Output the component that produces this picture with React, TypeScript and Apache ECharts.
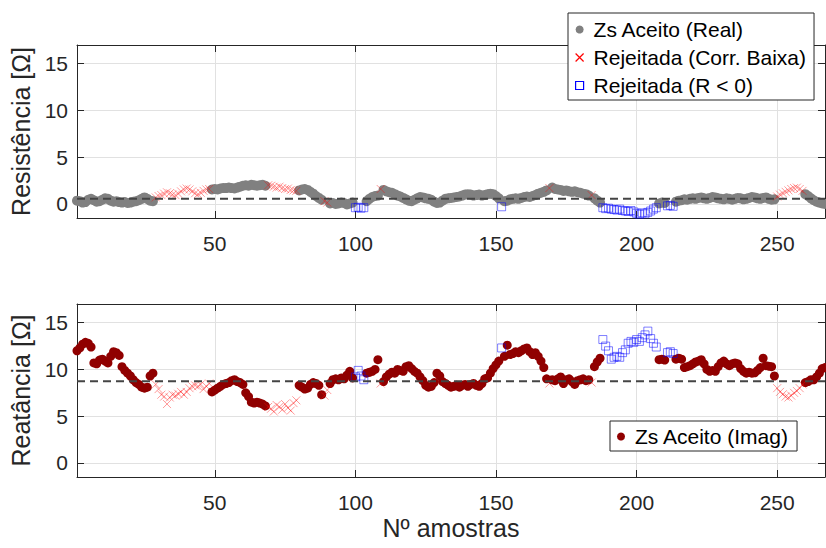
import { useEffect, useRef } from "react";
import * as echarts from "echarts";

// Sample index runs from 1 to 267
const sampleCount = 267;

// Real part of the estimated source impedance, per sample [Ω]
const resistance = [
  0.35, 0.30, 0.15, 0.20, 0.45, 0.55, 0.40, 0.25, 0.30, 0.45,
  0.60, 0.55, 0.35, 0.25, 0.30, 0.20, 0.15, 0.20, 0.10, 0.15,
  0.25, 0.30, 0.40, 0.55, 0.70, 0.55, 0.35, 0.30, 0.70, 0.85,
  0.95, 1.10, 1.25, 1.15, 1.00, 0.95, 1.10, 1.35, 1.55, 1.65,
  1.55, 1.35, 1.15, 1.05, 1.20, 1.40, 1.55, 1.60, 1.55, 1.60,
  1.55, 1.65, 1.70, 1.70, 1.75, 1.70, 1.65, 1.75, 1.85, 1.95,
  2.00, 1.95, 2.05, 2.00, 1.95, 2.00, 2.05, 1.95, 2.00, 1.95,
  1.85, 1.75, 1.85, 1.70, 1.60, 1.65, 1.50, 1.45, 1.40, 1.45,
  1.55, 1.60, 1.50, 1.30, 1.10, 0.85, 0.65, 0.45, 0.30, 0.15,
  0.05, 0.10, 0.00, 0.05, 0.15, 0.10, -0.05, 0.05, 0.15, -0.40,
  -0.35, -0.45, -0.40, 0.30, 0.55, 0.75, 0.85, 0.90, 1.60, 1.50,
  1.35, 1.25, 1.20, 1.05, 0.90, 0.80, 0.65, 0.50, 0.35, 0.30,
  0.45, 0.60, 0.75, 0.70, 0.60, 0.55, 0.45, 0.25, 0.10, 0.15,
  0.35, 0.55, 0.60, 0.65, 0.70, 0.75, 0.80, 0.90, 1.00, 1.05,
  1.00, 0.90, 0.95, 1.00, 0.90, 0.95, 1.05, 1.10, 1.05, 0.85,
  0.60, -0.30, 0.30, 0.35, 0.50, 0.55, 0.60, 0.55, 0.65, 0.75,
  0.80, 0.75, 0.85, 0.95, 1.10, 1.20, 1.30, 1.45, 1.70, 1.75,
  1.60, 1.55, 1.50, 1.40, 1.45, 1.35, 1.30, 1.35, 1.25, 1.20,
  1.10, 1.05, 0.90, 0.95, 0.60, 0.35, 0.15, -0.40, -0.50, -0.45,
  -0.55, -0.60, -0.65, -0.55, -0.70, -0.75, -0.80, -0.70, -0.85, -1.00,
  -1.10, -0.95, -1.05, -0.90, -0.75, -0.55, -0.40, 0.05, 0.15, 0.10,
  -0.20, -0.15, -0.25, 0.25, 0.35, 0.40, 0.50, 0.45, 0.55, 0.60,
  0.55, 0.65, 0.70, 0.60, 0.55, 0.65, 0.75, 0.70, 0.60, 0.55,
  0.50, 0.60, 0.55, 0.45, 0.55, 0.65, 0.60, 0.50, 0.55, 0.65,
  0.75, 0.70, 0.60, 0.55, 0.65, 0.70, 0.55, 0.45, 0.50, 0.80,
  1.00, 1.15, 1.30, 1.45, 1.60, 1.70, 1.75, 1.60, 1.40, 1.05,
  0.85, 0.60, 0.40, 0.25, 0.15, 0.05, 0.00,
];

// Imaginary part of the estimated source impedance, per sample [Ω]
const reactance = [
  12.0, 12.3, 12.7, 12.9, 12.8, 12.4, 10.7, 10.6, 11.0, 11.1,
  10.9, 10.7, 11.4, 11.9, 11.8, 11.5, 10.3, 9.9, 9.6, 9.3,
  8.9, 8.6, 8.4, 8.1, 8.0, 8.1, 9.3, 9.6, 8.4, 7.9,
  7.3, 7.1, 6.3, 7.0, 7.3, 7.2, 7.4, 7.6, 7.3, 7.6,
  8.0, 8.2, 8.3, 8.2, 8.4, 7.9, 8.2, 8.5, 7.6, 7.8,
  8.0, 8.2, 8.4, 8.5, 8.6, 8.8, 8.9, 8.7, 8.6, 8.4,
  7.5, 7.1, 6.5, 6.4, 6.5, 6.4, 6.3, 6.1, 6.0, 5.8,
  5.5, 6.2, 6.0, 5.7, 6.3, 5.9, 5.6, 6.4, 6.7, 8.3,
  8.1, 7.9, 8.0, 8.4, 8.6, 8.5, 8.3, 7.3, 7.2, 7.8,
  8.5, 8.9, 9.0, 8.9, 9.1, 9.0, 9.4, 9.8, 9.1, 9.2,
  9.9, 9.3, 8.9, 9.6, 9.7, 9.8, 10.0, 11.05, 8.5, 8.7,
  9.2, 9.5, 9.7, 9.6, 10.0, 9.9, 9.8, 10.3, 10.4, 10.1,
  9.8, 9.6, 9.2, 8.8, 8.3, 8.1, 8.2, 8.6, 9.6, 9.3,
  8.7, 8.5, 8.3, 8.1, 8.2, 8.3, 8.1, 8.3, 8.4, 8.2,
  8.4, 8.5, 8.3, 8.2, 8.5, 9.0, 9.1, 9.6, 10.1, 10.5,
  10.9, 12.3, 11.4, 12.6, 11.6, 11.7, 11.9, 11.8, 12.0, 12.2,
  12.3, 11.9, 11.6, 11.8, 11.4, 10.9, 10.2, 9.0, 8.5, 8.9,
  8.8, 9.0, 9.2, 8.5, 8.9, 9.0, 8.7, 8.4, 8.8, 8.9,
  9.0, 8.8, 8.9, 8.6, 10.3, 10.8, 11.2, 13.2, 12.5, 12.0,
  11.1, 11.3, 11.4, 11.3, 11.8, 12.1, 12.8, 13.0, 12.9, 13.2,
  13.0, 13.4, 13.7, 14.1, 13.3, 12.8, 12.4, 11.05, 11.1, 11.0,
  11.8, 11.9, 11.7, 11.1, 11.2, 11.1, 10.2, 10.3, 10.4, 10.6,
  10.8, 10.9, 11.05, 10.6, 10.0, 9.8, 9.9, 9.8, 10.3, 10.7,
  10.9, 10.6, 10.4, 10.6, 10.7, 10.6, 10.1, 9.8, 9.6, 9.7,
  9.6, 9.65, 9.9, 10.2, 11.2, 10.4, 10.35, 10.3, 9.3, 8.0,
  7.6, 7.35, 7.1, 7.0, 7.2, 7.5, 7.7, 8.0, 8.4, 8.6,
  8.7, 8.9, 8.9, 9.2, 9.6, 10.1, 10.2,
];

// Sample ranges (inclusive) rejected for low correlation
const lowCorrelationRanges = [
  [29, 48], [69, 79], [89, 90], [109, 109], [169, 169], [184, 184], [250, 259],
];

// Sample ranges (inclusive) rejected for negative resistance
const negativeRRanges = [
  [100, 103], [152, 152], [188, 207], [211, 213],
];

// Reference levels drawn as dashed lines [Ω]
const refResistance = 0.55;
const refReactance = 8.75;

// Axis ticks
const xTicks = [50, 100, 150, 200, 250];
const yTicks = [0, 5, 10, 15];
const yMin = -1.5;
const yMax = 17;

const FONT = "'Liberation Sans', Arial, Helvetica, sans-serif";
const AXIS_COLOR = "#262626";
const GRID_COLOR = "#e1e1e1";
const REAL_COLOR = "#808080";
const IMAG_COLOR = "#900000";
const CROSS = "path://M0,0L10,10M10,0L0,10";
const SQUARE = "path://M0,0L10,0L10,10L0,10Z";

const NAME_REAL = "Zs Aceito (Real)";
const NAME_IMAG = "Zs Aceito (Imag)";
const NAME_CORR = "Rejeitada (Corr. Baixa)";
const NAME_NEG = "Rejeitada (R < 0)";

function inRanges(i: number, ranges: number[][]) {
  return ranges.some(([a, b]) => i >= a && i <= b);
}

function splitByStatus(values: number[]) {
  const ok: number[][] = [];
  const corr: number[][] = [];
  const neg: number[][] = [];
  for (let i = 1; i <= sampleCount; i++) {
    const p = [i, values[i - 1]];
    if (inRanges(i, negativeRRanges)) neg.push(p);
    else if (inRanges(i, lowCorrelationRanges)) corr.push(p);
    else ok.push(p);
  }
  return { ok, corr, neg };
}

export default function App() {
  const ref = useRef<HTMLDivElement>(null);

  useEffect(() => {
    document.body.style.margin = "0";
    const chart = echarts.init(ref.current!, null, { renderer: "svg" });

    const r = splitByStatus(resistance);
    const x = splitByStatus(reactance);

    const xBottom = (gridIndex: number, withName: boolean) => ({
      type: "value",
      gridIndex,
      position: "bottom",
      min: 1,
      max: sampleCount,
      name: withName ? "Nº amostras" : "",
      nameLocation: "middle",
      nameGap: 38,
      nameTextStyle: { fontSize: 25, color: AXIS_COLOR, fontFamily: FONT },
      axisLine: { show: true, onZero: false, lineStyle: { color: AXIS_COLOR, width: 1 } },
      axisTick: { show: true, inside: true, length: 7, customValues: xTicks, lineStyle: { color: AXIS_COLOR } },
      axisLabel: { show: true, customValues: xTicks, margin: 15, fontSize: 21, color: AXIS_COLOR, fontFamily: FONT },
      splitLine: { show: true, lineStyle: { color: GRID_COLOR, width: 1 } },
    });
    const xTop = (gridIndex: number) => ({
      type: "value",
      gridIndex,
      position: "top",
      min: 1,
      max: sampleCount,
      axisLine: { show: true, onZero: false, lineStyle: { color: AXIS_COLOR, width: 1 } },
      axisTick: { show: true, inside: true, length: 7, customValues: xTicks, lineStyle: { color: AXIS_COLOR } },
      axisLabel: { show: false },
      splitLine: { show: false },
    });
    const yLeft = (gridIndex: number, name: string) => ({
      type: "value",
      gridIndex,
      position: "left",
      min: yMin,
      max: yMax,
      name,
      nameLocation: "middle",
      nameGap: 40,
      nameTextStyle: { fontSize: 25, color: AXIS_COLOR, fontFamily: FONT },
      axisLine: { show: true, onZero: false, lineStyle: { color: AXIS_COLOR, width: 1 } },
      axisTick: { show: true, inside: true, length: 7, customValues: yTicks, lineStyle: { color: AXIS_COLOR } },
      axisLabel: { show: true, customValues: yTicks, margin: 9, fontSize: 21, color: AXIS_COLOR, fontFamily: FONT },
      splitLine: { show: true, lineStyle: { color: GRID_COLOR, width: 1 } },
    });
    const yRight = (gridIndex: number) => ({
      type: "value",
      gridIndex,
      position: "right",
      min: yMin,
      max: yMax,
      axisLine: { show: true, onZero: false, lineStyle: { color: AXIS_COLOR, width: 1 } },
      axisTick: { show: true, inside: true, length: 7, customValues: yTicks, lineStyle: { color: AXIS_COLOR } },
      axisLabel: { show: false },
      splitLine: { show: false },
    });

    const crossStyle = { color: "rgba(0,0,0,0)", borderColor: "#ff0000", borderWidth: 1, opacity: 0.4 };
    const squareStyle = { color: "rgba(0,0,0,0)", borderColor: "#0000ff", borderWidth: 1, opacity: 0.5 };

    const refLine = (axisIndex: number, level: number) => ({
      type: "line",
      xAxisIndex: axisIndex * 2,
      yAxisIndex: axisIndex * 2,
      data: [[1, level], [sampleCount, level]],
      symbol: "none",
      silent: true,
      z: 5,
      lineStyle: { color: "#444444", width: 2, type: [8, 5] },
    });

    const legendBase = {
      orient: "vertical",
      backgroundColor: "#ffffff",
      borderColor: AXIS_COLOR,
      borderWidth: 1,
      borderRadius: 0,
      itemWidth: 18,
      itemHeight: 8,
      itemGap: 7,
      selectedMode: false,
      symbolKeepAspect: true,
      textStyle: { fontSize: 21, color: "#000000", fontFamily: FONT, lineHeight: 21 },
      z: 10,
    };

    chart.setOption({
      animation: false,
      backgroundColor: "#ffffff",
      grid: [
        { left: 77, top: 45, width: 748, height: 173 },
        { left: 77, top: 304, width: 748, height: 173 },
      ],
      xAxis: [xBottom(0, false), xTop(0), xBottom(1, true), xTop(1)],
      yAxis: [yLeft(0, "Resistência [Ω]"), yRight(0), yLeft(1, "Reatância [Ω]"), yRight(1)],
      legend: [
        {
          ...legendBase,
          left: 568,
          top: 13,
          padding: [6, 8, 4, 7],
          data: [
            { name: NAME_REAL, icon: "circle", itemStyle: { color: REAL_COLOR, opacity: 1 } },
            { name: NAME_CORR, icon: CROSS, itemStyle: { color: "rgba(0,0,0,0)", borderColor: "#ff0000", borderWidth: 1.2, opacity: 1 } },
            { name: NAME_NEG, icon: SQUARE, itemStyle: { color: "rgba(0,0,0,0)", borderColor: "#0000ff", borderWidth: 1.2, opacity: 1 } },
          ],
        },
        {
          ...legendBase,
          left: 610,
          top: 421,
          padding: [5, 8, 4, 7],
          data: [{ name: NAME_IMAG, icon: "circle", itemStyle: { color: IMAG_COLOR, opacity: 1 } }],
        },
      ],
      series: [
        { name: NAME_REAL, type: "scatter", xAxisIndex: 0, yAxisIndex: 0, data: r.ok, symbol: "circle", symbolSize: 10, itemStyle: { color: REAL_COLOR, opacity: 1 } },
        { name: NAME_CORR, type: "scatter", xAxisIndex: 0, yAxisIndex: 0, data: r.corr, symbol: CROSS, symbolSize: 8, itemStyle: crossStyle },
        { name: NAME_NEG, type: "scatter", xAxisIndex: 0, yAxisIndex: 0, data: r.neg, symbol: SQUARE, symbolSize: 8, itemStyle: squareStyle },
        refLine(0, refResistance),
        { name: NAME_IMAG, type: "scatter", xAxisIndex: 2, yAxisIndex: 2, data: x.ok, symbol: "circle", symbolSize: 9, itemStyle: { color: IMAG_COLOR, opacity: 1 } },
        { name: NAME_CORR, type: "scatter", xAxisIndex: 2, yAxisIndex: 2, data: x.corr, symbol: CROSS, symbolSize: 8, itemStyle: crossStyle },
        { name: NAME_NEG, type: "scatter", xAxisIndex: 2, yAxisIndex: 2, data: x.neg, symbol: SQUARE, symbolSize: 8, itemStyle: squareStyle },
        refLine(1, refReactance),
      ],
    });

    return () => chart.dispose();
  }, []);

  return <div ref={ref} style={{ width: 826, height: 548 }} />;
}
